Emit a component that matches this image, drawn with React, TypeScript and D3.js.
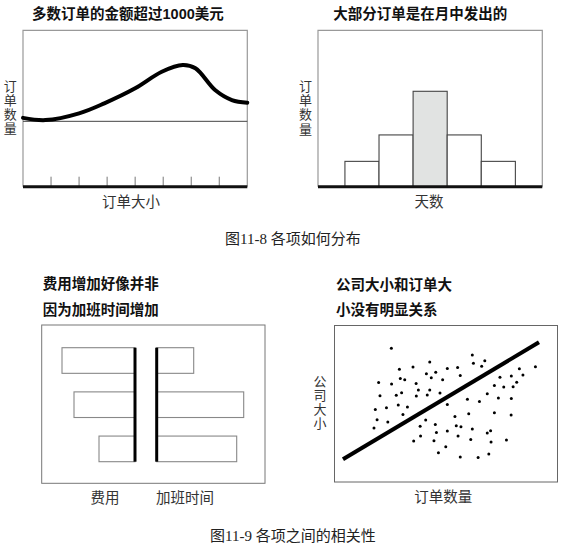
import * as d3 from "d3";
import React from "react";

// Panel 1: order size distribution (curve)
const sizeX = [0, 0.8, 2, 2.9, 4, 4.95, 5.7, 6.15, 6.85, 7.45, 8];
const orderCount = [44, 42.6, 46.9, 53.3, 62.9, 73.5, 77.8, 75.7, 61.8, 55.4, 53.7];
const baselineCount = 41.8;
const sizeTicks = [1, 2, 3, 4, 5, 6, 7];

// Panel 2: orders by day of month
const dayBins = ["月初", "上旬", "月中", "下旬", "月末"];
const dayOrders = [16.2, 33.1, 61, 33.1, 16.2];

// Panel 3: cost vs overtime
const rowKeys = ["a", "b", "c"];
const costValues = [73, 61, 36];
const overtimeValues = [37, 87, 80];

// Panel 4: company size vs order quantity
const orderQty = [
  25.5, 61.8, 67.4, 42.7, 62.3, 35.2, 29.1, 50.6, 55.2, 66.0, 90.1, 82.9, 41.2, 45.4,
  19.8, 25.6, 29.5, 31.5, 36.6, 43.4, 48.5, 56.4, 74.2, 79.3, 84.5, 81.7, 80.1, 75.9,
  71.7, 37.6, 42.7, 20.4, 27.7, 30.1, 36.7, 41.6, 47.3, 68.5, 73.5, 79.3, 59.6, 65.0,
  18.3, 23.3, 28.6, 32.7, 50.6, 30.7, 19.1, 23.9, 17.7, 40.9, 54.0, 60.2, 71.7, 79.2,
  38.4, 45.2, 54.6, 56.7, 61.8, 45.7, 50.6, 55.4, 70.0, 68.5, 38.6, 35.5, 44.6, 61.1,
  70.2, 77.1, 49.9, 46.6, 69.2, 56.4, 64.4,
];
const companySize = [
  85.4, 81.1, 77.5, 76.7, 75.8, 73.5, 72.0, 72.6, 73.2, 73.9, 73.7, 72.4, 69.2, 70.1,
  63.5, 62.6, 66.2, 65.4, 63.0, 66.6, 65.4, 68.1, 66.9, 67.7, 68.4, 63.7, 60.9, 60.7,
  61.7, 58.8, 58.8, 55.1, 55.4, 57.1, 54.9, 55.6, 56.9, 56.4, 53.7, 53.4, 52.8, 51.5,
  46.4, 47.5, 49.2, 47.9, 49.6, 43.2, 39.8, 38.3, 34.5, 39.6, 41.9, 43.6, 44.3, 42.8,
  35.6, 36.8, 36.0, 35.3, 33.8, 31.7, 32.6, 29.4, 32.8, 31.3, 29.4, 26.2, 26.4, 27.2,
  25.5, 26.8, 22.6, 18.7, 17.9, 16.0, 15.7,
];
const trendX = [3.8, 91.7];
const trendY = [14.5, 89.3];

const SANS = "'Liberation Sans', 'Noto Sans CJK SC', sans-serif";
const SERIF = "'Liberation Serif', 'Noto Sans CJK SC', serif";

function VLabel({ x, y0, text }: { x: number; y0: number; text: string }) {
  return (
    <g fontFamily={SANS} fontSize={13} fill="#333" textAnchor="middle">
      {text.split("").map((c, i) => (
        <text key={i} x={x} y={y0 + i * 14.2} dominantBaseline="central">
          {c}
        </text>
      ))}
    </g>
  );
}

function Title({ x, y, text }: { x: number; y: number; text: string }) {
  return (
    <text x={x} y={y} fontFamily={SANS} fontSize={14.5} fontWeight="bold" fill="#111" dominantBaseline="central">
      {text}
    </text>
  );
}

function Label({ x, y, text }: { x: number; y: number; text: string }) {
  return (
    <text x={x} y={y} fontFamily={SANS} fontSize={14.5} fill="#333" textAnchor="middle" dominantBaseline="central">
      {text}
    </text>
  );
}

export default function App() {
  // Panel 1
  const p1 = { l: 23, r: 247.3, t: 30.3, b: 186.7 };
  const x1 = d3.scaleLinear([0, 8], [p1.l, p1.r]);
  const y1 = d3.scaleLinear([0, 100], [p1.b, p1.t]);
  const curve = d3
    .line<number>()
    .x((i) => x1(sizeX[i]))
    .y((i) => y1(orderCount[i]))
    .curve(d3.curveCatmullRom.alpha(0.5))(d3.range(sizeX.length));

  // Panel 2
  const p2 = { l: 318, r: 542.3, t: 30.3, b: 186.7 };
  const x2 = d3.scaleBand(dayBins, [p2.l, p2.r]).paddingInner(0).paddingOuter(0.79);
  const y2 = d3.scaleLinear([0, 100], [p2.b, p2.t]);

  // Panel 3
  const p3 = { l: 41.7, r: 265, t: 325, b: 483.3 };
  const y3 = d3.scaleBand(rowKeys, [347.7, 461.7]).paddingInner(0.42).paddingOuter(0);
  const len3 = d3.scaleLinear([0, 100], [0, 100]);
  const costAxis = 135;
  const otAxis = 156.7;

  // Panel 4
  const p4 = { l: 334.5, r: 557.5, t: 325.5, b: 482 };
  const x4 = d3.scaleLinear([0, 100], [p4.l, p4.r]);
  const y4 = d3.scaleLinear([0, 100], [p4.b, p4.t]);
  const trend = d3
    .line<number>()
    .x((i) => x4(trendX[i]))
    .y((i) => y4(trendY[i]))(d3.range(trendX.length));

  return (
    <svg width={565} height={550} style={{ position: "absolute", left: 0, top: 0, background: "#fff" }}>
      {/* Panel 1 */}
      <Title x={32} y={13.5} text="多数订单的金额超过1000美元" />
      <path d={`M${p1.l},${p1.b} V${p1.t} H${p1.r} V${p1.b}`} fill="none" stroke="#999" strokeWidth={1.2} />
      <line x1={p1.l} x2={p1.r} y1={y1(baselineCount)} y2={y1(baselineCount)} stroke="#444" strokeWidth={1} />
      {sizeTicks.map((t) => (
        <line key={t} x1={x1(t)} x2={x1(t)} y1={p1.b} y2={p1.b - 10} stroke="#777" strokeWidth={1} />
      ))}
      <line x1={p1.l} x2={p1.r} y1={p1.b} y2={p1.b} stroke="#111" strokeWidth={3} />
      <path d={curve ?? ""} fill="none" stroke="#000" strokeWidth={4} strokeLinecap="round" />
      <VLabel x={10.3} y0={86} text="订单数量" />
      <Label x={131} y={201.7} text="订单大小" />

      {/* Panel 2 */}
      <Title x={333.3} y={13.5} text="大部分订单是在月中发出的" />
      <path d={`M${p2.l},${p2.b} V${p2.t} H${p2.r} V${p2.b}`} fill="none" stroke="#999" strokeWidth={1.2} />
      {dayBins.map((d, i) => (
        <rect
          key={d}
          x={x2(d)}
          y={y2(dayOrders[i])}
          width={x2.bandwidth()}
          height={p2.b - y2(dayOrders[i])}
          fill={i === 2 ? "#e1e3e2" : "#fff"}
          stroke="#444"
          strokeWidth={1.1}
        />
      ))}
      <line x1={p2.l} x2={p2.r} y1={p2.b} y2={p2.b} stroke="#111" strokeWidth={3} />
      <VLabel x={305.5} y0={86.5} text="订单数量" />
      <Label x={429} y={201.7} text="天数" />

      <text x={225} y={239} fontFamily={SERIF} fontSize={15} fill="#222" dominantBaseline="central">
        图11-8 各项如何分布
      </text>

      {/* Panel 3 */}
      <Title x={42.7} y={283.5} text="费用增加好像并非" />
      <Title x={42.7} y={309.5} text="因为加班时间增加" />
      <rect x={p3.l} y={p3.t} width={p3.r - p3.l} height={p3.b - p3.t} fill="none" stroke="#777" strokeWidth={1} />
      {rowKeys.map((k, i) => (
        <g key={k}>
          <rect
            x={costAxis - len3(costValues[i])}
            y={y3(k)}
            width={len3(costValues[i])}
            height={y3.bandwidth()}
            fill="#fff"
            stroke="#888"
            strokeWidth={1.1}
          />
          <rect
            x={otAxis}
            y={y3(k)}
            width={len3(overtimeValues[i])}
            height={y3.bandwidth()}
            fill="#fff"
            stroke="#888"
            strokeWidth={1.1}
          />
        </g>
      ))}
      <line x1={costAxis} x2={costAxis} y1={y3.range()[0]} y2={y3.range()[1]} stroke="#000" strokeWidth={3} />
      <line x1={otAxis} x2={otAxis} y1={y3.range()[0]} y2={y3.range()[1]} stroke="#000" strokeWidth={3} />
      <Label x={105} y={497.7} text="费用" />
      <Label x={185} y={497.7} text="加班时间" />

      {/* Panel 4 */}
      <Title x={336} y={284.5} text="公司大小和订单大" />
      <Title x={336} y={309.5} text="小没有明显关系" />
      <rect x={p4.l} y={p4.t} width={p4.r - p4.l} height={p4.b - p4.t} fill="none" stroke="#666" strokeWidth={1} />
      {orderQty.map((q, i) => (
        <circle key={i} cx={x4(q)} cy={y4(companySize[i])} r={1.5} fill="#000" />
      ))}
      <path d={trend ?? ""} fill="none" stroke="#000" strokeWidth={4} />
      <VLabel x={320} y0={381} text="公司大小" />
      <Label x={443.3} y={497.3} text="订单数量" />

      <text x={210} y={536} fontFamily={SERIF} fontSize={15} fill="#222" dominantBaseline="central">
        图11-9 各项之间的相关性
      </text>
    </svg>
  );
}
